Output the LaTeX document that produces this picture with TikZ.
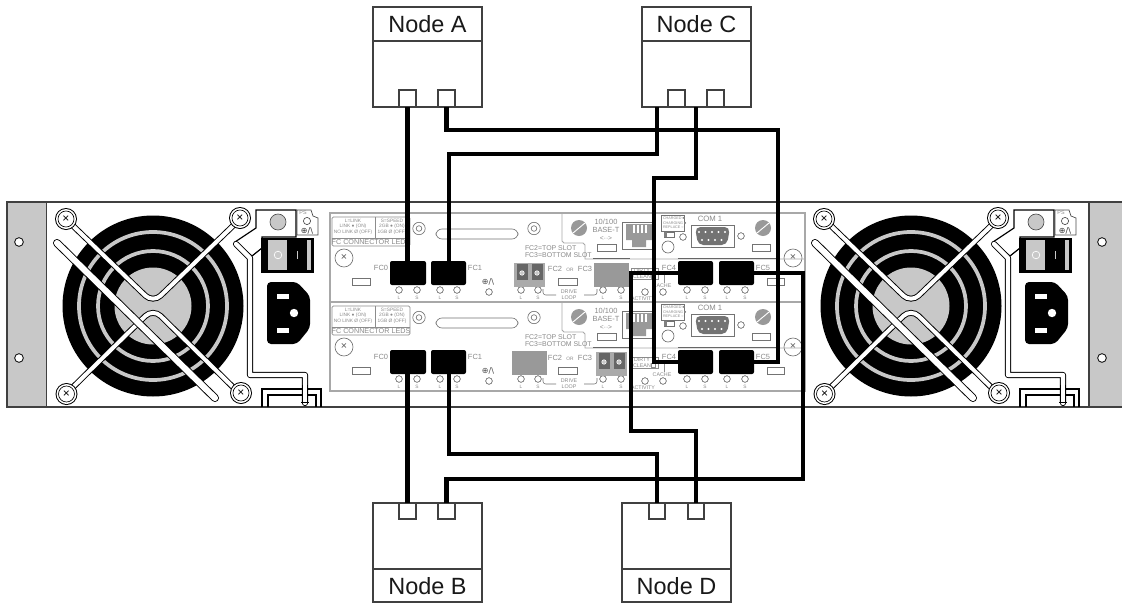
\documentclass[tikz,border=0pt]{standalone}
\usepackage{fontspec}
\setmainfont{Liberation Sans}
\newfontfamily\djv{DejaVu Sans}
\usetikzlibrary{calc}
\definecolor{mg}{HTML}{C8C8C8}
\definecolor{pl}{HTML}{A8A8A8}
\definecolor{pt}{HTML}{8A8A8A}
\definecolor{sg}{HTML}{999999}
\tikzset{
  px/.style={x=0.75pt,y=-0.75pt},
  rectnode/.style={inner sep=0pt,outer sep=0pt,line width=0.6pt,draw=black!75},
  hostbox/.style={rectnode,draw=black!75,fill=white,line width=0.9pt},
  fcblock/.style={inner sep=0pt,outer sep=0pt,fill=black,rounded corners=1.5pt},
  cable/.style={line width=3.1pt,black,line join=miter},
  tiny/.style={inner sep=0pt,outer sep=0pt,text=pt,font=\fontsize{5}{5}\selectfont},
  micro/.style={inner sep=0pt,outer sep=0pt,text=pt,font=\fontsize{3.6}{3.6}\selectfont},
  led/.style={circle,draw=black!70,fill=white,inner sep=0pt,outer sep=0pt,minimum size=5pt,line width=0.4pt},
  panelline/.style={draw=pl,line width=0.8pt},
  slotbox/.style={rectnode,draw=black!55,fill=white,line width=0.5pt},
  hostlabel/.style={inner sep=0pt,outer sep=0pt,font=\fontsize{17.6}{18}\selectfont,text=black!90}
}
% \boxnode{name}{x1}{y1}{x2}{y2}{style}{text}
\newcommand{\boxnode}[7]{%
  \pgfmathsetmacro{\bw}{(#4-#2)*0.75}\pgfmathsetmacro{\bh}{(#5-#3)*0.75}%
  \node[#6,minimum width=\bw pt,minimum height=\bh pt] (#1) at ({(#2+#4)/2},{(#3+#5)/2}) {#7};}
\newcommand{\screwx}[3]{%
  \fill[black] (#2,#3) circle[radius=11];
  \fill[white] (#2,#3) circle[radius=10];
  \draw[black,line width=0.5pt] (#2,#3) circle[radius=8];
  \node[inner sep=0pt,font=\fontsize{9}{9}\selectfont,text=black] (#1) at (#2,#3) {×};}
\newcommand{\psunit}[1]{%
  \fill[black] (153,306) circle[radius=90.5];
  \draw[mg,line width=2.8pt] (153,306) circle[radius=74];
  \draw[mg,line width=2.8pt] (153,306) circle[radius=55];
  \fill[mg] (153,306) circle[radius=38.5];
  % struts
  \foreach \w/\c in {4.4pt/black,3pt/white}{
    \draw[line width=\w,color=\c,rounded corners=8pt] (68,221) -- (153,303) -- (238,221);
    \draw[line width=\w,color=\c,rounded corners=8pt] (68,392) -- (153,308.5) -- (238,392);
  }
  \draw[line width=6pt,black,line cap=round] (57,243) -- (215,398);
  \draw[line width=4.6pt,white,line cap=round] (57,243) -- (215,398);
  \screwx{#1s1}{66}{219}\screwx{#1s2}{240}{218}\screwx{#1s3}{66.5}{394}\screwx{#1s4}{241}{393}
  % power box and wire
  \draw[draw=black,fill=white,line width=0.9pt] (256,210) -- (296,210) -- (296,237) -- (262,237) -- (262,248) -- (252,256) -- (235,242) -- (256,228) -- cycle;
  \fill[mg,draw=black!70,line width=0.5pt] (278,222) circle[radius=8];
  \draw[draw=black!70,fill=white,line width=0.5pt] (297,210) -- (311,210) -- (313,216) -- (318,218) -- (318,235) -- (297,235) -- cycle;
  \node[tiny,font=\fontsize{4}{4}\selectfont] (#1ps) at (303,213) {PS};
  \draw[black!70,line width=0.5pt] (307,221) circle[radius=3.6];
  \node[tiny,text=black!80,font=\djv\fontsize{6}{6}\selectfont] (#1psi) at (307,230.5) {⊕/\textbackslash};
  \draw[line width=4.6pt,black,line join=round,line cap=round] (236,244) -- (250,258) -- (250,375) -- (305,375) -- (305,403);
  \draw[line width=3.2pt,white,line join=round,line cap=round] (236,244) -- (250,258) -- (250,375) -- (305,375) -- (305,403);
  % switch
  \fill[black] (261,238) rectangle (314,273);
  \fill[mg] (268,240) rectangle (287,270);
  \fill[mg] (307,240) rectangle (311,270);
  \draw[white,line width=0.5pt] (278,255) circle[radius=3.8];
  \fill[mg] (296.5,251) rectangle (297.8,259);
  % socket
  \fill[black,rounded corners=3pt] (267,282) -- (297,282) -- (310,296) -- (310,328) -- (297,344) -- (267,344) -- cycle;
  \fill[white] (277,294) rectangle (289,299);
  \fill[white] (277,328) rectangle (289,332.5);
  \fill[white] (294,313) circle[radius=4.2];
  % bottom frames
  \draw[black,line width=1.7pt] (262,407) -- (262,389) -- (321,389) -- (321,407);
  \draw[black,line width=1.7pt] (268,407) -- (268,395) -- (316,395) -- (316,407);
  \draw[line width=4.6pt,black] (305,385) -- (305,403);
  \draw[line width=3.2pt,white] (305,380) -- (305,402);
  \draw[black,line width=0.8pt] (301,402.5) -- (309,402.5);
}
\newcommand{\grayscrew}[2]{%
  \fill[sg] (#1,#2) circle[radius=8];
  \draw[white,line width=0.7pt] (#1-6,#2+5) -- (#1+6,#2-5);}
\newcommand{\xcircle}[3]{%
  \draw[black!55,fill=white,line width=0.5pt] (#2,#3) circle[radius=9];
  \node[inner sep=0pt,text=black!65,font=\fontsize{8}{8}\selectfont] (#1) at (#2,#3) {×};}
\newcommand{\ringscrew}[2]{%
  \draw[black!55,line width=0.5pt] (#1,#2) circle[radius=6.2];
  \draw[black!55,line width=0.5pt] (#1,#2) circle[radius=2.8];}
\newcommand{\panelbody}[1]{%
  \draw[panelline,fill=white] (330,213) rectangle (805,302);
  % legend
  \draw[draw=black!45,line width=0.5pt,rounded corners=1pt] (332,217) rectangle (410,246);
  \draw[draw=black!45,line width=0.5pt] (332,238) -- (410,238) (375,217) -- (375,238);
  \node[micro] (#1la) at (353,220.5) {L=LINK};
  \node[micro] (#1lb) at (353,226.5) {LINK ● (ON)};
  \node[micro] (#1lc) at (353,232.5) {NO LINK Ø (OFF)};
  \node[micro] (#1ld) at (392,220.5) {S=SPEED};
  \node[micro] (#1le) at (392,226.5) {2GB ● (ON)};
  \node[micro] (#1lf) at (392,232.5) {1GB Ø (OFF)};
  \node[tiny,font=\fontsize{5.4}{5.4}\selectfont] (#1lg) at (371,242) {FC CONNECTOR LEDS};
  \ringscrew{419}{228.5}\ringscrew{534}{228.5}
  \draw[black!55,fill=white,line width=0.5pt,rounded corners=4.5pt] (436,229) rectangle (518,239);
  \xcircle{#1xl}{344}{258}\xcircle{#1xr}{793}{258}
  \boxnode{#1ra}{352}{278}{370}{285}{slotbox}{}
  \boxnode{#1rb}{558}{278}{577}{285}{slotbox}{}
  \boxnode{#1rc}{597}{244}{616}{251}{slotbox}{}
  \boxnode{#1rd}{752}{244}{770}{251}{slotbox}{}
  \boxnode{#1re}{767}{278}{784}{285}{slotbox}{}
  % separator outline of the upper plates
  \draw[pl,line width=0.7pt] (562,213) -- (562,241) -- ++(2,2) -- (583,243) -- ++(2,2) -- (585,259) -- (805,259);
  \draw[black!60,line width=1pt] (593,258.8) -- (630,258.8) (678,258.8) -- (776,258.8);
  \grayscrew{579}{228}\grayscrew{763}{228}
  \node[tiny,font=\fontsize{5.6}{5.6}\selectfont] (#1ba) at (606,221.5) {10/100};
  \node[tiny,font=\fontsize{5.6}{5.6}\selectfont] (#1bb) at (606,230) {BASE-T};
  \node[tiny,font=\fontsize{5}{5}\selectfont] (#1bc) at (606,239) {<··>};
  % RJ45
  \draw[black!55,line width=0.5pt,fill=white] (622,222) rectangle (655,249);
  \fill[sg] (626,224) -- (652,224) -- (652,240) -- (646,240) -- (646,247) -- (632,247) -- (632,240) -- (626,240) -- cycle;
  \foreach \xx in {633,637,641,645}{\fill[white] (\xx,225) rectangle (\xx+1.6,233);}
  \draw[draw=black!55,fill=white,line width=0.4pt] (661,215) rectangle (684,231);
  \node[micro,font=\fontsize{2.8}{2.8}\selectfont,anchor=west] (#1sa) at (663,218.5) {CHARGED ■};
  \node[micro,font=\fontsize{2.8}{2.8}\selectfont,anchor=west] (#1sb) at (663,223) {CHARGING ■};
  \node[micro,font=\fontsize{2.8}{2.8}\selectfont,anchor=west] (#1sc) at (663,227.5) {REPLACE ○};
  \boxnode{#1sd}{664}{232}{674}{237}{slotbox}{}
  \fill[black!50] (664,232) rectangle (667,237);
  \node[led] (#1se) at (683,237) {};
  \draw[black!60,line width=0.5pt] (668,247) circle[radius=6];
  \node[tiny,font=\fontsize{5.8}{5.8}\selectfont] (#1com) at (710,219) {COM 1};
  \draw[draw=black!55,fill=white,line width=0.5pt] (691,225) rectangle (734,247);
  \fill[black!55,rounded corners=4pt] (695,227) -- (730,227) -- (727,245) -- (698,245) -- cycle;
  \foreach \xx in {699,705.5,712,718.5,725}{\fill[white] (\xx,232) circle[radius=1.2];}
  \foreach \xx in {702,708.5,715,721.5}{\fill[white] (\xx,240) circle[radius=1.2];}
  \node[led] (#1cl) at (741,236) {};
  % FC blocks
  \boxnode{#1fc0}{390}{261}{426}{285}{fcblock}{}
  \boxnode{#1fc1}{431}{261}{466}{285}{fcblock}{}
  \boxnode{#1fc4}{678}{261}{713}{285}{fcblock}{}
  \boxnode{#1fc5}{719}{261}{754}{285}{fcblock}{}
  \node[tiny,font=\fontsize{5.6}{5.6}\selectfont] (#1l0) at (381,267.5) {FC0};
  \node[tiny,font=\fontsize{5.6}{5.6}\selectfont] (#1l1) at (475,267.5) {FC1};
  \node[tiny,font=\fontsize{5.6}{5.6}\selectfont] (#1l4) at (669,267.5) {FC4};
  \node[tiny,font=\fontsize{5.6}{5.6}\selectfont] (#1l5) at (763,267.5) {FC5};
  \node[tiny,font=\fontsize{5.6}{5.6}\selectfont] (#1l2) at (555,269) {FC2};
  \node[micro] (#1lor) at (570,270) {OR};
  \node[tiny,font=\fontsize{5.6}{5.6}\selectfont] (#1l3) at (585,269) {FC3};
  \node[tiny,anchor=west,font=\fontsize{5.2}{5.2}\selectfont] (#1t1) at (525,248.5) {FC2=TOP SLOT};
  \node[tiny,anchor=west,font=\fontsize{5.2}{5.2}\selectfont] (#1t2) at (525,255) {FC3=BOTTOM SLOT};
  % leds
  \foreach \n/\xx/\lt in {a/399/L,b/417/S,c/440/L,d/457/S,e/521/L,f/538/S,g/603/L,h/621/S,i/687/L,j/705/S,k/727/L,m/745/S}{
    \node[led] (#1led\n) at (\xx,290) {};
    \node[micro] (#1let\n) at (\xx,297.5) {\lt};
  }
  \node[tiny,text=black!70,font=\djv\fontsize{6}{6}\selectfont] (#1tool) at (488,282) {⊕/\textbackslash};
  \node[led] (#1ltool) at (489,292) {};
  \draw[black!55,line width=0.4pt,rounded corners=2pt] (543,289) -- (543,295) -- (556,295);
  \draw[black!55,line width=0.4pt,rounded corners=2pt] (597,289) -- (597,295) -- (584,295);
  \node[micro,font=\fontsize{4}{4}\selectfont] (#1dl1) at (569,291.5) {DRIVE};
  \node[micro,font=\fontsize{4}{4}\selectfont] (#1dl2) at (569,298) {LOOP};
  \draw[black!45,fill=white,line width=0.4pt] (631,268) rectangle (658,279);
  \node[micro,font=\fontsize{4}{4}\selectfont] (#1dc1) at (642,270.5) {DIRTY};
  \node[micro,font=\fontsize{4}{4}\selectfont] (#1dc2) at (642,276.5) {CLEAN};
  \draw[black!45,line width=0.4pt] (651,274.5) rectangle (655,278);
  \draw[black!45,line width=0.4pt] (664,274) -- (664,283);
  \node[micro,font=\fontsize{4}{4}\selectfont] (#1ca) at (662,286) {CACHE};
  \node[led] (#1lc1) at (645,292) {};
  \node[led] (#1lc2) at (663,292) {};
  \node[micro,font=\fontsize{4}{4}\selectfont] (#1act) at (643,299) {ACTIVITY};
}
\newcommand{\duplex}[2]{% x1, name
  \fill[mg!85!black] (#1,263) rectangle (#1+31,287);
  \fill[black!60] (#1+3,264) rectangle (#1+14,280);
  \fill[black!60] (#1+18,264) rectangle (#1+29,280);
  \node[led,minimum size=3.4pt,fill=mg,draw=white] (#2) at (#1+8,273) {};
  \node[led,minimum size=3.4pt,fill=mg,draw=white] (#2b) at (#1+23,273) {};
}
\begin{document}
\begin{tikzpicture}[px]
\useasboundingbox (0,0) rectangle (1122,604);
% chassis
\fill[white] (7,202) rectangle (1122,407);
\fill[mg] (7,202) rectangle (46.5,407);
\fill[mg] (1089,202) rectangle (1122,407);
\draw[black!75,line width=0.9pt] (1122,202) -- (7,202) -- (7,407) -- (1122,407);
\draw[black!75,line width=0.9pt] (46.5,202) -- (46.5,407) (1089,202) -- (1089,407);
\foreach \nm/\xx/\yy in {ha/19/242,hb/19/358,hc/1102/242,hd/1102/358}{
  \node[circle,draw=black,fill=white,line width=0.6pt,minimum size=6.5pt,inner sep=0pt] (\nm) at (\xx,\yy) {};
}
\psunit{pl}
\begin{scope}[xshift=568.5pt]\psunit{pr}\end{scope}
% controller panels
\panelbody{t}
\begin{scope}[yshift=-66.75pt]\panelbody{b}\end{scope}
\duplex{514}{dt}
\fill[sg] (594,263) rectangle (629,287);
\fill[sg] (512,351) rectangle (547,375);
\begin{scope}[yshift=-66.75pt]\duplex{596}{db}\end{scope}
% host nodes
\boxnode{na}{373}{7}{482}{107}{hostbox}{}
\boxnode{nc}{642}{7}{751}{107}{hostbox}{}
\boxnode{nb}{373}{503}{482}{602}{hostbox}{}
\boxnode{nd}{622}{503}{731}{602}{hostbox}{}
\draw[black!75,line width=0.9pt] (na.west |- 0,41) -- (na.east |- 0,41);
\draw[black!75,line width=0.9pt] (nc.west |- 0,41) -- (nc.east |- 0,41);
\draw[black!75,line width=0.9pt] (nb.west |- 0,569) -- (nb.east |- 0,569);
\draw[black!75,line width=0.9pt] (nd.west |- 0,569) -- (nd.east |- 0,569);
\node[hostlabel] (lba) at (427.5,24) {Node A};
\node[hostlabel] (lbc) at (696.5,24) {Node C};
\node[hostlabel] (lbb) at (427.5,586) {Node B};
\node[hostlabel] (lbd) at (676.5,586) {Node D};
\boxnode{pa1}{399}{90}{416}{107}{hostbox}{}
\boxnode{pa2}{438}{90}{455}{107}{hostbox}{}
\boxnode{pc1}{668}{90}{685}{107}{hostbox}{}
\boxnode{pc2}{707}{90}{724}{107}{hostbox}{}
\boxnode{pb1}{399}{503}{416}{519}{hostbox}{}
\boxnode{pb2}{438}{503}{455}{519}{hostbox}{}
\boxnode{pd1}{649}{503}{665}{519}{hostbox}{}
\boxnode{pd2}{688}{503}{704}{519}{hostbox}{}
% cable end points and bends
\coordinate (cl) at (657,107);
\coordinate (cr) at (696,107);
\coordinate (a2b) at (778,130);
\coordinate (c1b) at (449,154);
\coordinate (c2b) at (654,178);
\coordinate (b2b) at (803,479);
\coordinate (d1b) at (449,454);
\coordinate (d2b) at (631,431);
% cables
\draw[cable] (pa1.south) -- (pa1.south |- tfc0.north);
\draw[cable] (pa2.south) |- (a2b) -- (a2b |- bfc5.east) -- (bfc5.east);
\draw[cable] (cl) |- (c1b) -- (c1b |- tfc1.north);
\draw[cable] (cr) |- (c2b) -- (c2b |- bfc4.west) -- (bfc4.west);
\draw[cable] (pb1.north) -- (pb1.north |- bfc0.south);
\draw[cable] (pb2.north) |- (b2b) -- (b2b |- tfc5.east) -- (tfc5.east);
\draw[cable] (pd1.north) |- (d1b) -- (d1b |- bfc1.south);
\draw[cable] (pd2.north) |- (d2b) -- (d2b |- tfc4.west) -- (tfc4.west);
\end{tikzpicture}
\end{document}
